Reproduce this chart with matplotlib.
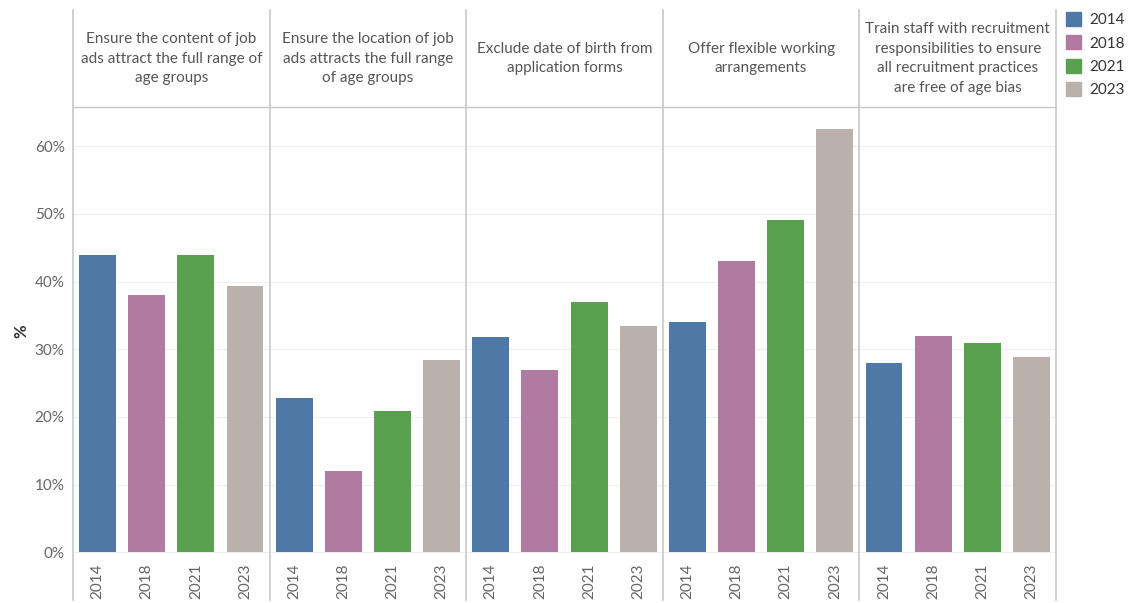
import matplotlib.pyplot as plt
from matplotlib.lines import Line2D
from matplotlib.patches import Patch

plt.rcParams['font.family'] = ['Lato', 'DejaVu Sans']

years = ["2014", "2018", "2021", "2023"]
colors = ["#4e79a7", "#b07aa1", "#59a14f", "#bab0ac"]
headers = [
    "Ensure the content of job\nads attract the full range of\nage groups",
    "Ensure the location of job\nads attracts the full range\nof age groups",
    "Exclude date of birth from\napplication forms",
    "Offer flexible working\narrangements",
    "Train staff with recruitment\nresponsibilities to ensure\nall recruitment practices\nare free of age bias",
]
values = [
    [44.0, 38.0, 44.0, 39.4],
    [22.8, 12.0, 20.9, 28.4],
    [31.8, 27.0, 37.0, 33.5],
    [34.0, 43.0, 49.1, 62.6],
    [28.0, 32.0, 31.0, 28.8],
]

W, H = 1134, 603
fig = plt.figure(figsize=(W / 100, H / 100), dpi=100)
left, right = 73 / W, 1056 / W
bottom, top = 1 - 555 / H, 1 - 107 / H
htop = 1 - 10 / H
pw = (right - left) / len(headers)
gray = "#666666"
line_c = "#c8c8c8"

for i, (hdr, vals) in enumerate(zip(headers, values)):
    ax = fig.add_axes([left + i * pw, bottom, pw, top - bottom])
    ax.bar(range(4), vals, width=0.75, color=colors)
    ax.set_xlim(-0.5, 3.5)
    ax.set_ylim(-0.4, 65.8)
    ax.set_yticks(range(0, 61, 10))
    ax.grid(axis="y", color="#efefef", lw=0.8)
    ax.set_axisbelow(True)
    for s in ax.spines.values():
        s.set_visible(False)
    ax.set_xticks(range(4))
    ax.set_xticklabels(years, rotation=90, color=gray, fontsize=11)
    ax.tick_params(length=0, pad=6)
    if i == 0:
        ax.set_yticklabels([f"{v}%" for v in range(0, 61, 10)], color=gray, fontsize=11)
        ax.set_ylabel("%", color="#333333", fontsize=12, fontweight="bold")
    else:
        ax.set_yticklabels([])
    fig.text(left + (i + 0.5) * pw, (top + htop) / 2, hdr, ha="center", va="center",
             fontsize=11, color="#555555", linespacing=1.5)

# separators and header border
for i in range(len(headers) + 1):
    x = left + i * pw
    fig.add_artist(Line2D([x, x], [1 - 600 / H, htop], color=line_c, lw=1.2))
fig.add_artist(Line2D([left, right], [top, top], color=line_c, lw=1))

handles = [Patch(color=c, label=y) for c, y in zip(colors, years)]
fig.legend(handles=handles, loc="upper left", bbox_to_anchor=(1066 / W, 1 - 12 / H),
           borderaxespad=0, borderpad=0, frameon=False, fontsize=11,
           handlelength=1.0, handleheight=1.0, labelspacing=0.55,
           handletextpad=0.5, labelcolor="#333333")

fig.savefig("out.png", dpi=100)
